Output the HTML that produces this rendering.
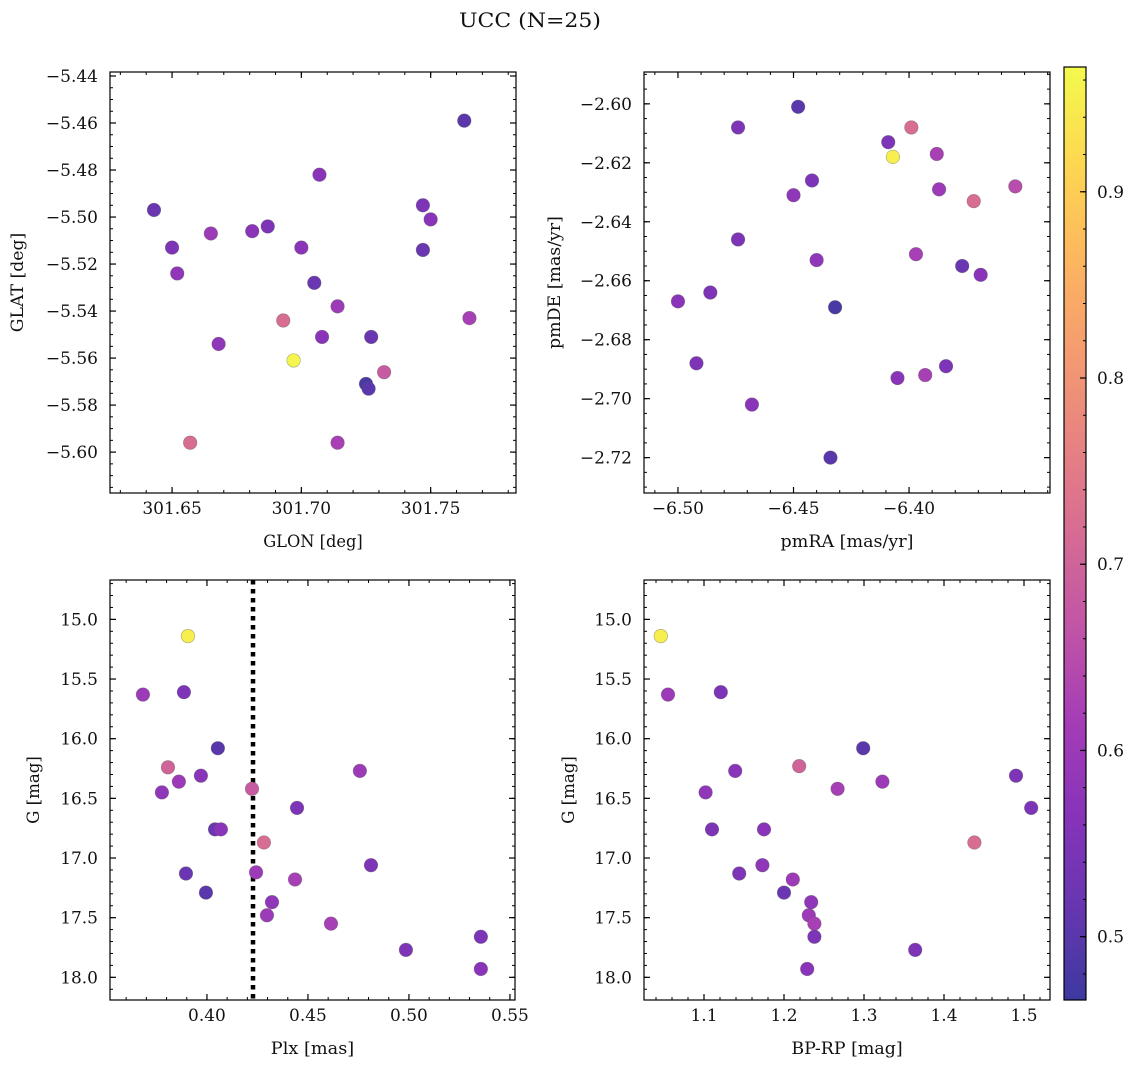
<!DOCTYPE html>
<html><head><meta charset="utf-8"><style>
body{margin:0;background:#fff}
svg text{font-family:"DejaVu Serif","Liberation Serif",serif;fill:#111}
</style></head><body>
<svg id="fig" width="1136" height="1067" xmlns="http://www.w3.org/2000/svg">
<text id="ttl" x="530" y="27" font-size="20" text-anchor="middle" textLength="142" lengthAdjust="spacingAndGlyphs">UCC (N=25)</text>
</svg>
<script>
// Panel 1: GLON / GLAT
const glonVals=[301.643,301.763,301.650,301.652,301.665,301.681,301.687,301.707,301.700,301.705,301.714,301.708,301.668,301.693,301.697,301.727,301.725,301.726,301.732,301.747,301.750,301.747,301.765,301.657,301.714];
const glatVals=[-5.497,-5.459,-5.513,-5.524,-5.507,-5.506,-5.504,-5.482,-5.513,-5.528,-5.538,-5.551,-5.554,-5.544,-5.561,-5.551,-5.571,-5.573,-5.566,-5.495,-5.501,-5.514,-5.543,-5.596,-5.596];
const glatColor=[0.52,0.5,0.55,0.58,0.6,0.57,0.55,0.57,0.57,0.52,0.6,0.57,0.58,0.72,0.96,0.52,0.48,0.5,0.68,0.55,0.57,0.52,0.62,0.72,0.62];
// Panel 2: pmRA / pmDE
const pmraVals=[-6.448,-6.474,-6.409,-6.399,-6.407,-6.388,-6.387,-6.354,-6.442,-6.450,-6.372,-6.474,-6.440,-6.397,-6.377,-6.369,-6.432,-6.500,-6.486,-6.492,-6.468,-6.405,-6.393,-6.384,-6.434];
const pmdeVals=[-2.601,-2.608,-2.613,-2.608,-2.618,-2.617,-2.629,-2.628,-2.626,-2.631,-2.633,-2.646,-2.653,-2.651,-2.655,-2.658,-2.669,-2.667,-2.664,-2.688,-2.702,-2.693,-2.692,-2.689,-2.720];
const pmColor=[0.5,0.55,0.55,0.72,0.95,0.62,0.6,0.65,0.55,0.58,0.72,0.55,0.58,0.62,0.52,0.57,0.48,0.57,0.55,0.55,0.57,0.57,0.62,0.55,0.5];
// Panel 3: Plx / G
const plxVals=[0.3906,0.3683,0.3886,0.4054,0.3807,0.3777,0.3861,0.3970,0.4223,0.4757,0.4446,0.4040,0.4069,0.4282,0.3896,0.4243,0.3995,0.4436,0.4812,0.4322,0.4297,0.4614,0.4985,0.5356,0.5356];
const gPlxVals=[15.14,15.63,15.61,16.08,16.24,16.45,16.36,16.31,16.42,16.27,16.58,16.76,16.76,16.87,17.13,17.12,17.29,17.18,17.06,17.37,17.48,17.55,17.77,17.66,17.93];
const plxColor=[0.95,0.6,0.55,0.5,0.7,0.58,0.6,0.57,0.68,0.6,0.55,0.52,0.57,0.72,0.52,0.6,0.5,0.62,0.55,0.58,0.6,0.62,0.55,0.55,0.57];
const plxCut=0.4228;
// Panel 4: BP-RP / G
const bprpVals=[1.046,1.055,1.121,1.299,1.219,1.267,1.323,1.102,1.139,1.490,1.509,1.110,1.175,1.438,1.173,1.144,1.211,1.200,1.234,1.231,1.238,1.238,1.364,1.229];
const gCmdVals=[15.14,15.63,15.61,16.08,16.23,16.42,16.36,16.45,16.27,16.31,16.58,16.76,16.76,16.87,17.06,17.13,17.18,17.29,17.37,17.48,17.55,17.66,17.77,17.93];
const cmdColor=[0.95,0.6,0.55,0.5,0.7,0.62,0.6,0.58,0.57,0.55,0.55,0.55,0.57,0.72,0.58,0.55,0.6,0.52,0.58,0.6,0.62,0.55,0.55,0.57];
const cbTicks=[0.5,0.6,0.7,0.8,0.9];
const cMin=0.466,cMax=0.967;

const NS="http://www.w3.org/2000/svg";
const svg=document.getElementById('fig');
function mk(tag,attrs,parent){const e=document.createElementNS(NS,tag);for(const k in attrs)e.setAttribute(k,attrs[k]);(parent||svg).appendChild(e);return e;}
function dvWidth(s,fs){let w=0;for(const ch of s){if(/[0-9]/.test(ch))w+=0.636;else if(ch==='.'||ch===' ')w+=0.318;else if(ch==='\u2212')w+=0.838;else if(ch==='['||ch===']'||ch==='('||ch===')')w+=0.39;else if(ch==='-')w+=0.338;else if(ch==='=')w+=0.838;else if(/[A-Z]/.test(ch))w+=0.74;else if(ch==='m')w+=0.95;else if(/[lij]/.test(ch))w+=0.32;else if(ch==='/')w+=0.337;else w+=0.6;}return w*fs;}
function fit(t){const s=t.textContent;const fs=+t.getAttribute('font-size');t.setAttribute('textLength',dvWidth(s,fs).toFixed(1));t.setAttribute('lengthAdjust','spacingAndGlyphs');}
const stops=[[0,[13,8,135]],[.1,[65,4,157]],[.2,[106,0,168]],[.3,[143,13,164]],[.4,[177,42,144]],[.5,[204,71,120]],[.6,[225,100,98]],[.7,[242,132,75]],[.8,[252,166,54]],[.9,[252,206,37]],[1,[240,249,33]]];
function plasma(t){t=Math.max(0,Math.min(1,t));for(let i=1;i<stops.length;i++){if(t<=stops[i][0]){const a=stops[i-1],b=stops[i];const f=(t-a[0])/(b[0]-a[0]);const c=a[1].map((v,j)=>v+(b[1][j]-v)*f);const w=c.map(v=>Math.round(v*0.8+255*0.2));return `rgb(${w[0]},${w[1]},${w[2]})`;}}return 'rgb(240,249,33)';}
function col(v){return plasma((v-cMin)/(cMax-cMin));}
function fmt(v,d){let s=v.toFixed(d);return s.replace('-','\u2212');}

function panel(o){
  const g=mk('g',{});
  
  
  const X=v=>o.x0+(v-o.xmin)/(o.xmax-o.xmin)*(o.x1-o.x0);
  const Y=o.yinv?(v=>o.y0+(v-o.ymin)/(o.ymax-o.ymin)*(o.y1-o.y0)):(v=>o.y1-(v-o.ymin)/(o.ymax-o.ymin)*(o.y1-o.y0));
  const eps=1e-9;
  for(let v=Math.ceil(o.xmin/o.xminor)*o.xminor;v<=o.xmax+eps;v+=o.xminor){const px=X(v);mk('line',{x1:px,x2:px,y1:o.y1,y2:o.y1-3,stroke:'#000','stroke-width':1},g);mk('line',{x1:px,x2:px,y1:o.y0,y2:o.y0+3,stroke:'#000','stroke-width':1},g);}
  for(let v=Math.ceil(o.ymin/o.yminor)*o.yminor;v<=o.ymax+eps;v+=o.yminor){const py=Y(v);mk('line',{x1:o.x0,x2:o.x0+3,y1:py,y2:py,stroke:'#000','stroke-width':1},g);mk('line',{x1:o.x1,x2:o.x1-3,y1:py,y2:py,stroke:'#000','stroke-width':1},g);}
  o.xticks.forEach(v=>{const px=X(v);mk('line',{x1:px,x2:px,y1:o.y1,y2:o.y1-6,stroke:'#000','stroke-width':1.2},g);mk('line',{x1:px,x2:px,y1:o.y0,y2:o.y0+6,stroke:'#000','stroke-width':1.2},g);
    const t=mk('text',{x:px,y:o.y1+21,'font-size':17,'text-anchor':'middle'},g);t.textContent=fmt(v,o.xd);fit(t);
    
    });
  o.yticks.forEach(v=>{const py=Y(v);mk('line',{x1:o.x0,x2:o.x0+6,y1:py,y2:py,stroke:'#000','stroke-width':1.2},g);mk('line',{x1:o.x1,x2:o.x1-6,y1:py,y2:py,stroke:'#000','stroke-width':1.2},g);
    const t=mk('text',{x:o.x0-12,y:py+6,'font-size':17,'text-anchor':'end'},g);t.textContent=fmt(v,o.yd);fit(t);
    
    });
  if(o.vline!==undefined){const l=mk('line',{x1:X(o.vline),x2:X(o.vline),y1:o.y0,y2:o.y1,stroke:'#000','stroke-width':4.5,'stroke-dasharray':'4.5,4.5'},g);
    
    }
  o.xs.forEach((v,i)=>{const c=mk('circle',{cx:X(v),cy:Y(o.ys[i]),r:6.8,fill:col(o.cs[i]),stroke:'rgba(90,90,90,0.5)','stroke-width':0.6},g);
    
    });
  mk('rect',{x:o.x0,y:o.y0,width:o.x1-o.x0,height:o.y1-o.y0,fill:'none',stroke:'#000','stroke-width':1.2},g);
  const xl=mk('text',{x:(o.x0+o.x1)/2,y:o.y1+54,'font-size':17,'text-anchor':'middle'},g);xl.textContent=o.xlabel;fit(xl);
  
  
  const yc=(o.y0+o.y1)/2;
  const yl=mk('text',{x:o.ylx,y:yc,'font-size':17,'text-anchor':'middle',transform:`rotate(-90 ${o.ylx} ${yc})`},g);yl.textContent=o.ylabel;fit(yl);
  
  
}
function rng(a,b,s){const r=[];for(let v=a;v<=b+1e-9;v+=s)r.push(+v.toFixed(6));return r;}
panel({name:'glon-glat-panel',x0:110,x1:516,y0:72,y1:493,xmin:301.626,xmax:301.783,ymin:-5.6174,ymax:-5.4383,xticks:[301.65,301.70,301.75],xd:2,yticks:rng(-5.60,-5.44,0.02),yd:2,xminor:0.01,yminor:0.005,xs:glonVals,ys:glatVals,cs:glatColor,xlabel:'GLON [deg]',ylabel:'GLAT [deg]',ylx:23});
panel({name:'pm-panel',x0:644,x1:1050,y0:72,y1:493,xmin:-6.5147,xmax:-6.339,ymin:-2.732,ymax:-2.5892,xticks:[-6.50,-6.45,-6.40],xd:2,yticks:rng(-2.72,-2.60,0.02),yd:2,xminor:0.01,yminor:0.005,xs:pmraVals,ys:pmdeVals,cs:pmColor,xlabel:'pmRA [mas/yr]',ylabel:'pmDE [mas/yr]',ylx:560});
panel({name:'plx-g-panel',x0:110,x1:515,y0:580,y1:1000,xmin:0.352,xmax:0.5525,ymin:14.67,ymax:18.19,yinv:true,xticks:[0.40,0.45,0.50,0.55],xd:2,yticks:rng(15,18,0.5),yd:1,xminor:0.01,yminor:0.1,xs:plxVals,ys:gPlxVals,cs:plxColor,vline:plxCut,xlabel:'Plx [mas]',ylabel:'G [mag]',ylx:39});
panel({name:'cmd-panel',x0:644,x1:1050,y0:580,y1:1000,xmin:1.025,xmax:1.5325,ymin:14.67,ymax:18.19,yinv:true,xticks:[1.1,1.2,1.3,1.4,1.5],xd:1,yticks:rng(15,18,0.5),yd:1,xminor:0.02,yminor:0.1,xs:bprpVals,ys:gCmdVals,cs:cmdColor,xlabel:'BP-RP [mag]',ylabel:'G [mag]',ylx:574});
const cb=mk('g',{});


const cy0=67,cy1=1000,cx0=1064,cx1=1086;
const defs=mk('defs',{},cb);const lg=mk('linearGradient',{id:'cbg',x1:0,y1:1,x2:0,y2:0},defs);
for(let i=0;i<=20;i++){mk('stop',{offset:i/20,'stop-color':plasma(i/20)},lg);}
mk('rect',{x:cx0,y:cy0,width:cx1-cx0,height:cy1-cy0,fill:'url(#cbg)',stroke:'#000','stroke-width':1.2},cb);
const CY=v=>cy1-(v-cMin)/(cMax-cMin)*(cy1-cy0);
for(let v=0.48;v<=cMax;v+=0.02){const py=CY(v);mk('line',{x1:cx1,x2:cx1-3,y1:py,y2:py,stroke:'#000','stroke-width':1},cb);}
cbTicks.forEach(v=>{const py=CY(v);mk('line',{x1:cx1,x2:cx1-6,y1:py,y2:py,stroke:'#000','stroke-width':1.2},cb);
  const t=mk('text',{x:cx1+11,y:py+6,'font-size':17},cb);t.textContent=v.toFixed(1);fit(t);
  
  });
</script>
</body></html>
